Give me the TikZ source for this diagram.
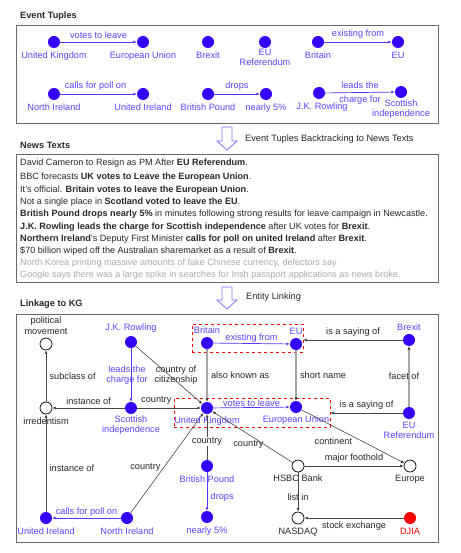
\documentclass[tikz,border=0pt]{standalone}
\usepackage{fontspec}
\setmainfont{Liberation Sans}
\usepackage{tikz}
\usetikzlibrary{arrows.meta, positioning}
\usepackage{xcolor}
\definecolor{evBlue}{RGB}{51, 0, 255}
\definecolor{evText}{RGB}{92, 66, 255}
\definecolor{boxGray}{RGB}{105, 105, 105}
\definecolor{aliasGray}{RGB}{165, 165, 165}
\definecolor{hollowBlue}{RGB}{125, 115, 255}
\definecolor{darkText}{RGB}{40, 40, 40}

\begin{document}
\begin{tikzpicture}[
  x=1pt, y=-1pt,
  every node/.style={align=center, font=\fontsize{9.2}{10.5}\selectfont, text=darkText},
  ent/.style={circle, fill=evBlue, minimum size=12pt, inner sep=0pt},
  kgent/.style={circle, draw=black, fill=white, line width=0.7pt, minimum size=12pt, inner sep=0pt},
  redent/.style={circle, fill=red, minimum size=12pt, inner sep=0pt},
  evlbl/.style={text=evText},
  title/.style={anchor=west, inner sep=0pt, font=\fontsize{9.2}{11}\selectfont\bfseries},
  news/.style={anchor=west, inner sep=0pt, font=\fontsize{9.1}{11}\selectfont},
  faded/.style={text=black!33},
  rel/.style={-{Latex[length=3.5pt,width=3pt]}, draw=evBlue!80, line width=0.7pt},
  kgrel/.style={-{Latex[length=3.5pt,width=3pt]}, draw=black!72, line width=0.6pt},
  alias/.style={-{Latex[length=3.5pt,width=3pt,color=black!80]}, draw=aliasGray, line width=1.4pt},
  panel/.style={draw=boxGray, line width=0.8pt},
  linkbox/.style={draw=red, dashed, line width=0.6pt, inner sep=0pt},
  hollow/.style={draw=hollowBlue, line width=0.8pt, fill=white},
]
\useasboundingbox[fill=white] (0,0) rectangle (460,553);

% Event tuples panel
\node[title] (tupTitle) at (20,16) {Event Tuples};
\draw[panel] (16,25) rectangle (438,123);

\node[ent, label={[evlbl]below:United Kingdom}] (uk1) at (54,42) {};
\node[ent, label={[evlbl]below:European Union}] (eun1) at (143,42) {};
\node[ent, label={[evlbl]below:Brexit}] (brx1) at (208,42) {};
\node[ent, label={[evlbl, label distance=-3pt]below:{EU\\Referendum}}] (ref1) at (265,42) {};
\node[ent, label={[evlbl]below:Britain}] (brt1) at (318,42) {};
\node[ent, label={[evlbl]below:EU}] (eu1) at (398,42) {};

\node[ent, label={[evlbl]below:North Ireland}] (ni1) at (54,94) {};
\node[ent, label={[evlbl]below:United Ireland}] (ui1) at (143,94) {};
\node[ent, label={[evlbl]below:British Pound}] (bp1) at (208,94) {};
\node[ent, label={[evlbl]below:nearly 5\%}] (pct1) at (266,94) {};
\node[ent, label={[evlbl, xshift=3pt]below:J.K. Rowling}] (jk1) at (319,93) {};
\node[ent, label={[evlbl, label distance=-2pt]below:{Scottish\\independence}}] (si1) at (401,92) {};

\draw[rel] (uk1) -- node[above, evlbl] {votes to leave} (eun1);
\draw[rel] (brt1) -- node[above, evlbl] {existing from} (eu1);
\draw[rel] (ni1) -- node[above, evlbl, xshift=-3pt] {calls for poll on} (ui1);
\draw[rel] (bp1) -- node[above, evlbl] {drops} (pct1);
\draw[rel] (jk1) -- node[above, evlbl] {leads the}
  node[below, evlbl] {charge for} (si1);

% Backtracking arrow
\coordinate (down1) at (227,127);
\draw[hollow] (down1) ++(-5,0) -- ++(0,14) -- ++(-5,0) -- ++(10,9) -- ++(10,-9) -- ++(-5,0) -- ++(0,-14) -- cycle;
\node[anchor=west, inner sep=0pt] (backText) at (245,139) {Event Tuples Backtracking to News Texts};

% News texts panel
\node[title] (newsTitle) at (20,145) {News Texts};
\draw[panel] (16,154) rectangle (438,282);

\node[news] (n1) at (20,163) {David Cameron to Resign as PM After \textbf{EU Referendum}.};
\node[news] (n2) at (20,177) {BBC forecasts \textbf{UK votes to Leave the European Union}.};
\node[news] (n3) at (20,190) {It's official. \textbf{Britain votes to leave the European Union}.};
\node[news] (n4) at (20,202) {Not a single place in \textbf{Scotland voted to leave the EU}.};
\node[news] (n5) at (20,214) {\textbf{British Pound drops nearly 5\%} in minutes following strong results for leave campaign in Newcastle.};
\node[news] (n6) at (20,227) {\textbf{J.K. Rowling leads the charge for Scottish independence} after UK votes for \textbf{Brexit}.};
\node[news] (n7) at (20,239) {\textbf{Northern Ireland}'s Deputy First Minister \textbf{calls for poll on united Ireland} after \textbf{Brexit}.};
\node[news] (n8) at (20,251) {\$70 billion wiped off the Australian sharemarket as a result of \textbf{Brexit}.};
\node[news, faded] (n9) at (20,263) {North Korea printing massive amounts of fake Chinese currency, defectors say};
\node[news, faded] (n10) at (20,275) {Google says there was a large spike in searches for Irish passport applications as news broke.};

% Entity linking arrow
\coordinate (down2) at (227,287);
\draw[hollow] (down2) ++(-5,0) -- ++(0,13) -- ++(-5,0) -- ++(10,9) -- ++(10,-9) -- ++(-5,0) -- ++(0,-13) -- cycle;
\node[anchor=west, inner sep=0pt] (linkText) at (246,297) {Entity Linking};

% Knowledge graph panel
\node[title] (kgTitle) at (20,304) {Linkage to KG};
\draw[panel] (16,314) rectangle (438,542);

% Dashed groups
\node[linkbox, minimum width=111pt, minimum height=28pt] (boxTop) at (247.5,338) {};
\node[linkbox, minimum width=156pt, minimum height=29pt] (boxLow) at (252,412.5) {};

\node[kgent, label={above:{political\\movement}}] (pol2) at (46,344) {};
\node[ent, label={[evlbl]above:J.K. Rowling}] (jk2) at (131,342) {};
\node[ent, label={[evlbl]above:Britain}] (brt2) at (207,343) {};
\node[ent, label={[evlbl]above:EU}] (eu2) at (296,344) {};
\node[ent, label={[evlbl]above:Brexit}] (brx2) at (409,340) {};

\node[kgent, label={below:irredentism}] (irr2) at (46,408) {};
\node[ent, label={[evlbl, label distance=-2pt]below:{Scottish\\independence}}] (si2) at (131,408) {};
\node[ent, label={[evlbl, label distance=-1pt]below:United Kingdom}] (uk2) at (207,408) {};
\node[ent, label={[evlbl, label distance=-1pt]below:European Union}] (eun2) at (296,407) {};
\node[ent, label={[evlbl, label distance=-1pt]below:{EU\\Referendum}}] (ref2) at (409,413) {};

\node[ent, label={[evlbl]below:British Pound}] (bp2) at (207,466) {};
\node[ent, label={[evlbl]below:nearly 5\%}] (pct2) at (207,517) {};
\node[ent, label={[evlbl]below:United Ireland}] (ui2) at (46,518) {};
\node[ent, label={[evlbl]below:North Ireland}] (ni2) at (127,518) {};
\node[kgent, label={[label distance=-1pt]below:HSBC Bank}] (hsbc2) at (298,466) {};
\node[kgent, label={[label distance=-1pt]below:Europe}] (eur2) at (410,466) {};
\node[kgent, label={below:NASDAQ}] (nsdq2) at (298,518) {};
\node[redent, label={[text=red]below:DJIA}] (djia2) at (410,518) {};

% Relations
\draw[kgrel] (irr2) -- node[right] {subclass of} (pol2);
\draw[kgrel] (si2) -- node[above] {instance of} (irr2);
\draw[kgrel] (ui2) -- node[right, pos=0.45] {instance of} (irr2);
\draw[kgrel] (si2) -- node[above, pos=0.3] {country} (uk2);
\draw[rel] (jk2) -- node[evlbl, xshift=-4pt] {leads the\\charge for} (si2);
\draw[kgrel] (jk2) -- node[xshift=7pt] {country of\\citizenship} (uk2);
\draw[alias] (brt2) -- node[right] {also known as} (uk2);
\draw[rel] (brt2) -- node[above, evlbl, inner sep=1pt] {existing from} (eu2);
\draw[alias] (eu2) -- node[right] {short name} (eun2);
\draw[kgrel] (brx2) -- node[above] {is a saying of} (brx2 -| boxTop.east);
\draw[alias] (ref2) -- node[xshift=-5pt] {facet of} (brx2);
\draw[kgrel] (ref2) -- node[above] {is a saying of} (ref2 -| boxLow.east);
\draw[rel] (uk2) -- node[above, evlbl, inner sep=1pt] {votes to leave} (eun2);
\draw[rel] (ni2) -- node[above, evlbl, inner sep=1pt] {calls for poll on} (ui2);
\draw[kgrel] (ni2) -- node[left, pos=0.46] {country} (uk2);
\draw[kgrel] (bp2) -- node[fill=white, inner sep=1pt, pos=0.4] {country} (uk2);
\draw[rel] (bp2) -- node[right, evlbl, pos=0.65] {drops} (pct2);
\draw[kgrel] (hsbc2) -- node[below, pos=0.55, yshift=-3pt] {country} (uk2);
\draw[kgrel] (hsbc2) -- node[above] {major foothold} (eur2);
\draw[kgrel] (eun2) -- node[below=8pt, pos=0.31] {continent} (eur2);
\draw[kgrel] (hsbc2) -- node[pos=0.62] {list in} (nsdq2);
\draw[kgrel] (djia2) -- node[below] {stock exchange} (nsdq2);

\end{tikzpicture}
\end{document}
